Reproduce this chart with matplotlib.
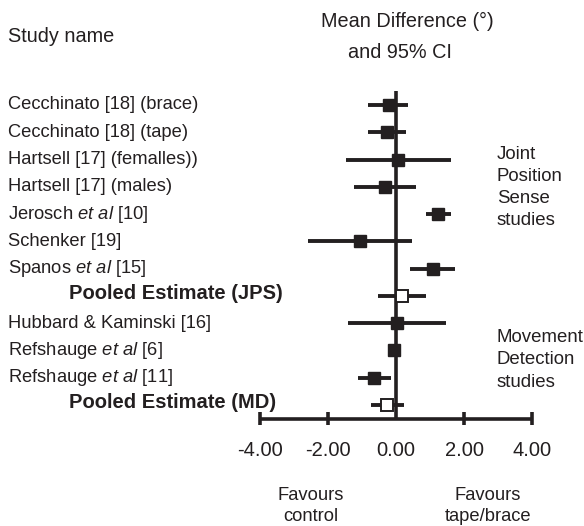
import numpy as np
import matplotlib
matplotlib.use("Agg")
import matplotlib.pyplot as plt

plt.rcParams['font.family'] = ['Liberation Sans', 'DejaVu Sans']
plt.rcParams['mathtext.fontset'] = 'custom'
plt.rcParams['mathtext.rm'] = 'Liberation Sans'
plt.rcParams['mathtext.it'] = 'Liberation Sans:italic'

# ==== Data (mean difference, degrees, with 95% CI) ====
studies = ["Cecchinato [18] (brace)",
           "Cecchinato [18] (tape)",
           "Hartsell [17] (femalles))",
           "Hartsell [17] (males)",
           r"Jerosch $\it{et\ al}$ [10]",
           "Schenker [19]",
           r"Spanos $\it{et\ al}$ [15]",
           "Pooled Estimate (JPS)",
           "Hubbard & Kaminski [16]",
           r"Refshauge $\it{et\ al}$ [6]",
           r"Refshauge $\it{et\ al}$ [11]",
           "Pooled Estimate (MD)"]
mean = [-0.21, -0.26, 0.06, -0.32, 1.24, -1.06, 1.09, 0.18, 0.03, -0.06, -0.65, -0.26]
lower = [-0.82, -0.82, -1.47, -1.24, 0.88, -2.59, 0.41, -0.53, -1.41, -0.15, -1.12, -0.74]
upper = [0.35, 0.29, 1.62, 0.59, 1.62, 0.47, 1.74, 0.88, 1.47, 0.03, -0.15, 0.24]
pooled = [False] * 7 + [True] + [False] * 3 + [True]
ticks = [-4, -2, 0, 2, 4]
# =====================================================

ink = "#231f20"

fig = plt.figure(figsize=(5.84, 5.26), dpi=100)
ax = fig.add_axes([0, 0, 1, 1])
ax.set_xlim(-11.647, 5.529)
ax.set_ylim(15.44, -3.85)
ax.axis("off")

rows = np.arange(len(studies))

# zero line and x axis
ax.plot([0, 0], [-0.5, 11.55], color=ink, lw=2.6, solid_capstyle="butt", zorder=1)
ax.plot([ticks[0], ticks[-1]], [11.5, 11.5], color=ink, lw=2.6, solid_capstyle="butt", zorder=1)
for t in ticks:
    if t != 0:
        ax.plot([t, t], [11.25, 11.75], color=ink, lw=2.6, solid_capstyle="butt")
    ax.text(t, 12.68, f"{t:.2f}", ha="center", va="center", fontsize=14.5, color=ink)

# CI lines and squares
for i in rows:
    ax.plot([lower[i], upper[i]], [i, i], color=ink, lw=2.8, solid_capstyle="butt", zorder=2)
    if pooled[i]:
        ax.plot(mean[i], i, marker="s", ms=8.5, mfc="white", mec=ink, mew=1.4, zorder=3)
    else:
        ax.plot(mean[i], i, marker="s", ms=9.3, mfc=ink, mec=ink, zorder=3)

# study labels
for i in rows:
    if pooled[i]:
        ax.text(-9.62, i - 0.1, studies[i], ha="left", va="center", fontsize=14.5,
                fontweight="bold", color=ink)
    else:
        ax.text(-11.41, i, studies[i], ha="left", va="center", fontsize=13.2, color=ink)

# headers
ax.text(-11.41, -2.5, "Study name", ha="left", va="center", fontsize=14.3, color=ink)
ax.text(0.33, -3.05, "Mean Difference (\u00b0)", ha="center", va="center", fontsize=14.3, color=ink)
ax.text(0.13, -1.92, "and 95% CI", ha="center", va="center", fontsize=14.3, color=ink)

# group labels
ax.text(2.96, 3.03, "Joint\nPosition\nSense\nstudies", ha="left", va="center", fontsize=13.4,
        color=ink, linespacing=1.4)
ax.text(2.96, 9.35, "Movement\nDetection\nstudies", ha="left", va="center", fontsize=13.4,
        color=ink, linespacing=1.4)

# favours labels
ax.text(-2.5, 14.7, "Favours\ncontrol", ha="center", va="center", fontsize=13.2,
        color=ink, linespacing=1.3)
ax.text(2.7, 14.7, "Favours\ntape/brace", ha="center", va="center", fontsize=13.2,
        color=ink, linespacing=1.3)

fig.savefig("out.png", dpi=100)
